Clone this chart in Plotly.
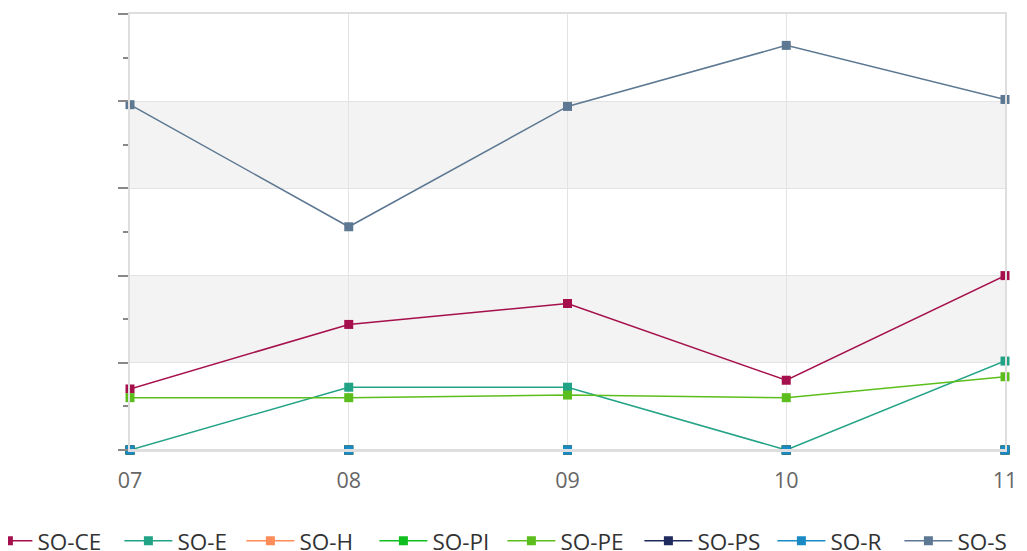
import plotly.graph_objects as go

# x categories (months)
months = ["07", "08", "09", "10", "11"]

# series values
so_ce = [3.5, 7.2, 8.4, 4.0, 10.0]
so_e = [0, 3.6, 3.6, 0, 5.1]
so_h = [0, 0, 0, 0, 0]
so_pi = [0, 0, 0, 0, 0]
so_pe = [3.0, 3.0, 3.15, 3.0, 4.2]
so_ps = [0, 0, 0, 0, 0]
so_r = [0, 0, 0, 0, 0]
so_s = [19.8, 12.8, 19.7, 23.2, 20.1]

# name, values, colour, legend entry width
series = [
    ("SO-CE", so_ce, "#a50f4b", 77),
    ("SO-E", so_e, "#22a386", 59),
    ("SO-H", so_h, "#fc8d59", 70),
    ("SO-PI", so_pi, "#0fbf1f", 65),
    ("SO-PE", so_pe, "#5cbe1c", 74),
    ("SO-PS", so_ps, "#1f2a5e", 70),
    ("SO-R", so_r, "#1a8ac4", 64),
    ("SO-S", so_s, "#5d7892", 90),
]

# the chart is wider than the window; the plot sits in the left part
fig_w = 1100
plot_l = 122
plot_w = 875
paper_w = fig_w - plot_l

fig = go.Figure()

# alternating grey bands
for y0, y1 in [(5, 10), (15, 20)]:
    fig.add_shape(type="rect", xref="x domain", yref="y", x0=0, x1=1, y0=y0, y1=y1,
                  fillcolor="#f3f3f3", line_width=0, layer="below")

for name, vals, color, lw in series:
    fig.add_trace(go.Scatter(
        x=months, y=vals, name=name, mode="lines+markers",
        line=dict(color=color, width=1.5),
        marker=dict(symbol="square", size=9, color=color),
        cliponaxis=False, legendwidth=lw,
    ))

# base line drawn over the series, as in the original
fig.add_shape(type="line", xref="x domain", yref="y", x0=0, x1=1, y0=0, y1=0,
              line=dict(color="#dedede", width=2), layer="above")

fig.update_layout(
    width=fig_w, height=551,
    margin=dict(l=plot_l, r=0, t=6, b=109, autoexpand=False),
    plot_bgcolor="white", paper_bgcolor="white",
    font=dict(family="Open Sans", size=22, color="#333"),
    showlegend=True,
    legend=dict(orientation="h", x=-0.154, xanchor="left", y=-0.209, yanchor="middle",
                itemwidth=48, font=dict(size=22.5, color="#333")),
    xaxis=dict(domain=[0, plot_w / paper_w], range=[0, 4],
               showgrid=True, gridcolor="#e3e3e3", gridwidth=1,
               showline=True, linecolor="#dedede", linewidth=1.5, mirror=True,
               zeroline=False, layer="above traces",
               ticks="", ticklabelstandoff=10,
               tickfont=dict(size=21.5, color="#666")),
    yaxis=dict(range=[0, 25], dtick=5, showgrid=True, gridcolor="#e3e3e3",
               showline=True, linecolor="#dedede", linewidth=1.5, mirror=True,
               zeroline=False, showticklabels=False, layer="above traces",
               ticks="outside", ticklen=10, tickcolor="#888", tickwidth=1.5,
               minor=dict(dtick=2.5, ticks="outside", ticklen=5, tickcolor="#888",
                          showgrid=False)),
)

fig.write_html("out.html")
